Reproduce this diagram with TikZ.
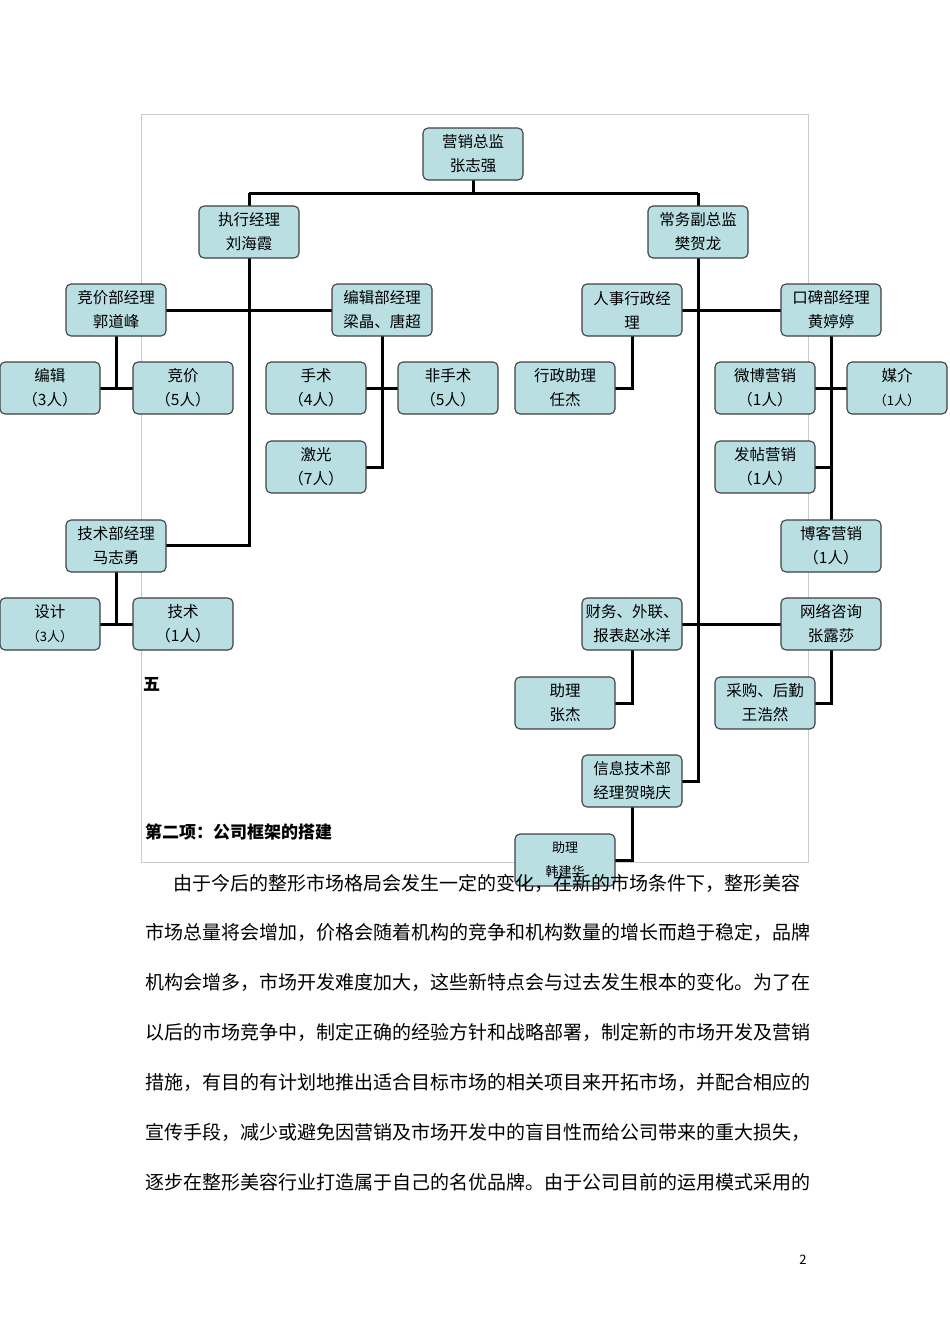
\documentclass[tikz,border=0pt]{standalone}
\usepackage{fontspec}
\setmainfont{Noto Sans CJK SC}
\definecolor{boxfill}{HTML}{B9DFE3}
\tikzset{
 bx/.style={draw=black!75,line width=1.1pt,fill=boxfill,rounded corners=5pt,minimum width=100pt,minimum height=52pt,inner sep=1pt,align=center,font=\fontsize{15.5}{24}\selectfont},
 ln/.style={line width=3pt},
 para/.style={anchor=west,inner sep=0pt,font=\fontsize{19}{20}\selectfont}
}
\begin{document}
\begin{tikzpicture}[x=1pt,y=-1pt]
\useasboundingbox (0,0) rectangle (950,1344);
\draw[black!20,line width=0.6pt] (141,114) rectangle (808,862);
% lines first
\draw[ln] (473,180) -- (473,193) (249,193) -- (698,193) (249,193) -- (249,206) (698,193) -- (698,206);
\draw[ln] (249,258) -- (249,545) -- (166,545);
\draw[ln] (166,310) -- (332,310);
\draw[ln] (116,336) -- (116,388) (100,388) -- (133,388);
\draw[ln] (382,336) -- (382,467) -- (366,467) (366,388) -- (399,388);
\draw[ln] (698,258) -- (698,781) -- (682,781);
\draw[ln] (682,310) -- (781,310);
\draw[ln] (682,624) -- (781,624);
\draw[ln] (632,336) -- (632,388) -- (615,388);
\draw[ln] (831,336) -- (831,520) (815,388) -- (848,388) (815,467) -- (831,467);
\draw[ln] (116,572) -- (116,624) (100,624) -- (133,624);
\draw[ln] (831,650) -- (831,703) -- (815,703);
\draw[ln] (632,650) -- (632,703) -- (615,703);
\draw[ln] (632,807) -- (632,860) -- (615,860);
% nodes
\node[bx] (a) at (473,154) {营销总监\\张志强};
\node[bx] (b) at (249,232) {执行经理\\刘海霞};
\node[bx] (c) at (698,232) {常务副总监\\樊贺龙};
\node[bx] (d) at (116,310) {竞价部经理\\郭道峰};
\node[bx] (e) at (382,310) {编辑部经理\\梁晶、唐超};
\node[bx] (f) at (632,310) {人事行政经\\理};
\node[bx] (g) at (831,310) {口碑部经理\\黄婷婷};
\node[bx] (h) at (50,388) {编辑\hspace{1.5em}\\（3人）};
\node[bx] (i) at (183,388) {竞价\\（5人）};
\node[bx] (j) at (316,388) {手术\\（4人）};
\node[bx] (k) at (448,388) {非手术\\（5人）};
\node[bx] (l) at (316,467) {激光\\（7人）};
\node[bx] (m) at (565,388) {行政助理\\任杰};
\node[bx] (n) at (765,388) {微博营销\\（1人）};
\node[bx] (o) at (897,388) {媒介\\{\fontsize{13}{20}\selectfont（1人）}};
\node[bx] (p) at (765,467) {发帖营销\\（1人）};
\node[bx] (q) at (831,546) {博客营销\\（1人）};
\node[bx] (r) at (116,546) {技术部经理\\马志勇};
\node[bx] (s) at (50,624) {设计\\{\fontsize{13}{20}\selectfont（3人）}};
\node[bx] (t) at (183,624) {技术\\（1人）};
\node[bx] (u) at (632,624) {财务、外联、\\报表赵冰洋};
\node[bx] (v) at (831,624) {网络咨询\\张露莎};
\node[bx] (w) at (565,703) {助理\\张杰};
\node[bx] (x) at (765,703) {采购、后勤\\王浩然};
\node[bx] (y) at (632,781) {信息技术部\\经理贺晓庆};
\node[bx] (z) at (565,860) {{\fontsize{13}{20}\selectfont 助理}\\{\fontsize{13}{20}\selectfont 韩建华}};
% text
\node[anchor=west,inner sep=0pt,font=\fontsize{17}{20}\selectfont\bfseries] (five) at (143,684) {五};
\node[anchor=west,inner sep=0pt,font=\fontsize{17}{20}\selectfont\bfseries] (sec) at (145,832) {第二项：公司框架的搭建};
\node[para] (p1) at (173,883) {由于今后的整形市场格局会发生一定的变化，在新的市场条件下，整形美容};
\node[para] (p2) at (145,932) {市场总量将会增加，价格会随着机构的竞争和机构数量的增长而趋于稳定，品牌};
\node[para] (p3) at (145,982) {机构会增多，市场开发难度加大，这些新特点会与过去发生根本的变化。为了在};
\node[para] (p4) at (145,1032) {以后的市场竞争中，制定正确的经验方针和战略部署，制定新的市场开发及营销};
\node[para] (p5) at (145,1082) {措施，有目的有计划地推出适合目标市场的相关项目来开拓市场，并配合相应的};
\node[para] (p6) at (145,1132) {宣传手段，减少或避免因营销及市场开发中的盲目性而给公司带来的重大损失，};
\node[para] (p7) at (145,1182) {逐步在整形美容行业打造属于自己的名优品牌。由于公司目前的运用模式采用的};
\node[inner sep=0pt,font=\fontsize{13}{14}\selectfont] (pg) at (803,1260) {2};
\end{tikzpicture}
\end{document}
